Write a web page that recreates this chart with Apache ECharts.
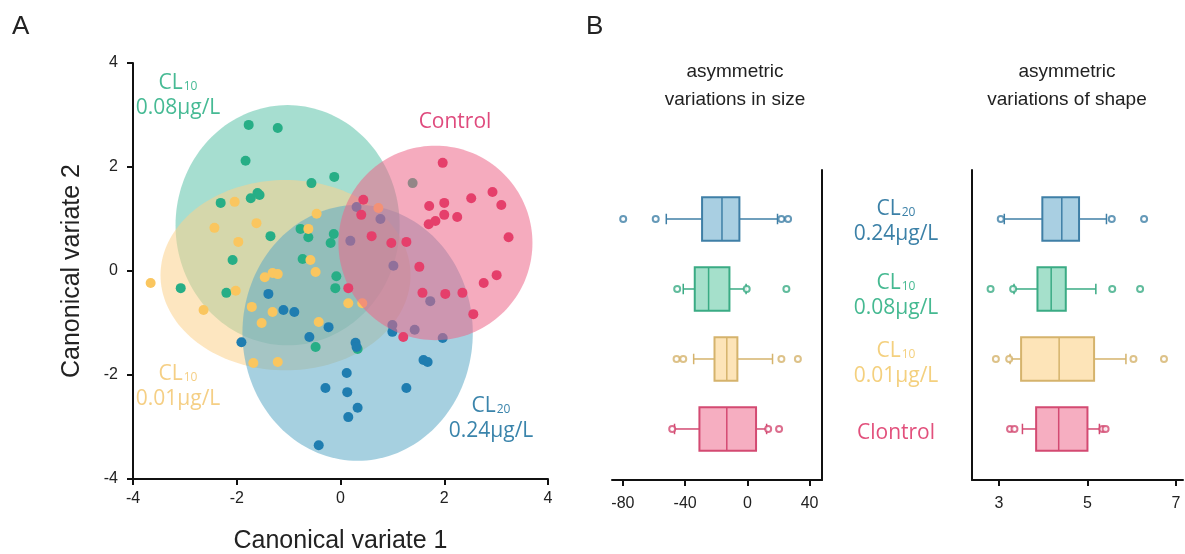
<!DOCTYPE html>
<html>
<head>
<meta charset="utf-8">
<script src="https://cdn.jsdelivr.net/npm/echarts@6/dist/echarts.min.js"></script>
<style>
  html, body { margin: 0; padding: 0; background: #fff; }
  #chart { width: 1185px; height: 554px; }
</style>
</head>
<body>
<div id="chart"></div>
<script>
// ---------- Panel A: canonical variate scores ----------
const cl10LowPoints = [ // CL10 0.01 µg/L
  [-3.66, -0.23], [-2.64, -0.75], [-2.43, 0.83], [-2.04, 1.33], [-1.62, 0.92],
  [-1.97, 0.56], [-0.46, 1.10], [-0.62, 0.81], [-0.58, 0.21], [-0.48, -0.02],
  [-1.46, -0.12], [-1.31, -0.04], [-1.21, -0.06], [-2.02, -0.38], [-1.71, -0.69],
  [-1.31, -0.79], [-1.52, -1.00], [-0.42, -0.98], [-1.68, -1.77], [-1.21, -1.75],
  [0.15, -0.62], [0.42, -0.62], [0.73, 1.21]
];
const cl10HighPoints = [ // CL10 0.08 µg/L
  [-1.77, 2.81], [-1.21, 2.75], [-1.83, 2.12], [-0.56, 1.69], [-0.12, 1.81],
  [-1.73, 1.40], [-1.60, 1.50], [-1.56, 1.46], [-2.31, 1.31], [-1.35, 0.67],
  [-2.08, 0.21], [-3.08, -0.33], [-2.20, -0.42], [-0.77, 0.81], [-0.62, 0.65],
  [-0.13, 0.71], [-0.19, 0.54], [-0.73, 0.23], [-0.08, -0.10], [-0.10, -0.33],
  [-0.48, -1.46], [0.33, -1.50], [1.39, 1.69]
];
const cl20Points = [ // CL20 0.24 µg/L
  [-1.39, -0.44], [-1.10, -0.75], [-0.89, -0.79], [-1.91, -1.37], [-0.60, -1.27],
  [-0.23, -1.08], [-0.29, -2.25], [-0.42, -3.35], [0.29, -1.38], [0.31, -1.46],
  [0.12, -1.96], [0.13, -2.33], [0.33, -2.63], [0.15, -2.81], [1.27, -2.25],
  [1.60, -1.71], [1.68, -1.75], [1.97, -1.29], [1.00, -1.04], [1.00, -1.17],
  [1.43, -1.13], [1.73, -0.58], [1.02, 0.10], [0.31, 1.23], [0.77, 1.00],
  [0.19, 0.58]
];
const controlPoints = [
  [1.97, 2.08], [2.52, 1.40], [2.93, 1.52], [3.10, 1.27], [3.24, 0.65],
  [1.71, 1.25], [2.00, 1.31], [2.00, 1.08], [2.25, 1.04], [1.70, 0.90],
  [1.83, 0.96], [0.44, 1.37], [0.40, 1.08], [0.60, 0.67], [0.98, 0.54],
  [1.27, 0.56], [1.52, 0.08], [0.15, -0.33], [1.58, -0.42], [2.02, -0.44],
  [2.35, -0.42], [2.76, -0.23], [3.01, -0.08], [2.56, -0.83], [1.21, -1.27]
];
// group ellipses: [centre x, centre y, radius x, radius y]
const cl10HighEllipse = [-1.02, 0.88, 2.16, 2.31];
const cl10LowEllipse  = [-1.06, -0.08, 2.41, 1.83];
const cl20Ellipse     = [0.33, -1.19, 2.22, 2.46];
const controlEllipse  = [1.83, 0.54, 1.87, 1.87];
const variateTicks = [-4, -2, 0, 2, 4];

// ---------- Panel B: box plots (rows top to bottom: CL20, CL10 0.08, CL10 0.01, Control) ----------
const boxRows = [4, 3, 2, 1];
// [lower whisker, Q1, median, Q3, upper whisker]
const sizeStats = [
  [-52.1, -29.1, -16.3, -5.1, 19.4],
  [-41.2, -33.8, -24.9, -11.5, -0.8],
  [-34.5, -21.1, -13.2, -6.4, 16.2],
  [-46.8, -30.8, -13.2, 5.6, 12.4]
];
const sizeOutliers = [
  [-79.8, -58.9, 21.9, 26.2],
  [-45.1, -0.4, 25.1],
  [-45.5, -41.2, 21.9, 32.5],
  [-48.3, 13.4, 20.4]
];
const shapeStats = [
  [3.12, 3.98, 4.42, 4.81, 5.43],
  [3.34, 3.87, 4.18, 4.51, 5.19],
  [3.25, 3.50, 4.36, 5.15, 5.87],
  [3.53, 3.84, 4.35, 5.00, 5.27]
];
const shapeOutliers = [
  [3.04, 5.55, 6.28],
  [2.81, 3.32, 5.56, 6.19],
  [2.93, 3.23, 6.04, 6.73],
  [3.25, 3.35, 5.34, 5.41]
];
const sizeTicks = [-80, -40, 0, 40];
const shapeTicks = [3, 5, 7];

// ---------- styling ----------
const FONT = '"Liberation Sans", Arial, sans-serif';
const LABEL_FONT = '"Open Sans", "Noto Sans", sans-serif';
const AXIS_COLOR = '#111';
const BOX_HALF = 0.31;
const CAP_HALF = 0.075;
const boxStyles = [
  { fill: '#a9cfe2', stroke: '#3f7fa6' },
  { fill: '#a5e0cb', stroke: '#3aab84' },
  { fill: '#fde4b8', stroke: '#d5b36c' },
  { fill: '#f6aec1', stroke: '#d34a72' }
];

const chart = echarts.init(document.getElementById('chart'), null, { renderer: 'canvas' });

function ellipseSeries(params, fill, z) {
  return {
    type: 'custom', xAxisIndex: 0, yAxisIndex: 0, z: z, silent: true,
    encode: { x: 0, y: 1 },
    data: [params],
    renderItem: function (p, api) {
      const cx = api.value(0), cy = api.value(1), rx = api.value(2), ry = api.value(3);
      const pts = [];
      for (let i = 0; i < 160; i++) {
        const t = (i / 160) * Math.PI * 2;
        pts.push(api.coord([cx + rx * Math.cos(t), cy + ry * Math.sin(t)]));
      }
      return { type: 'polygon', shape: { points: pts }, style: { fill: fill } };
    }
  };
}

function pointSeries(data, color, z) {
  return {
    type: 'scatter', xAxisIndex: 0, yAxisIndex: 0, z: z, silent: true,
    symbolSize: 10, data: data,
    itemStyle: { color: color, opacity: 1 }
  };
}

function boxSeries(stats, axisIdx) {
  return {
    type: 'custom', xAxisIndex: axisIdx, yAxisIndex: axisIdx, z: 5, silent: true,
    encode: { x: [1, 2, 3, 4, 5], y: 0 },
    data: stats.map((s, i) => [boxRows[i]].concat(s)),
    renderItem: function (p, api) {
      const row = api.value(0);
      const st = boxStyles[p.dataIndex];
      const xs = [1, 2, 3, 4, 5].map(k => api.coord([api.value(k), row])[0]);
      const y = api.coord([0, row])[1];
      const yTop = api.coord([0, row + BOX_HALF])[1];
      const yBot = api.coord([0, row - BOX_HALF])[1];
      const cTop = api.coord([0, row + CAP_HALF])[1];
      const cBot = api.coord([0, row - CAP_HALF])[1];
      const ln = { stroke: st.stroke, lineWidth: 1.5 };
      return {
        type: 'group',
        children: [
          { type: 'line', shape: { x1: xs[0], y1: y, x2: xs[1], y2: y }, style: ln },
          { type: 'line', shape: { x1: xs[3], y1: y, x2: xs[4], y2: y }, style: ln },
          { type: 'line', shape: { x1: xs[0], y1: cTop, x2: xs[0], y2: cBot }, style: ln },
          { type: 'line', shape: { x1: xs[4], y1: cTop, x2: xs[4], y2: cBot }, style: ln },
          { type: 'rect', shape: { x: xs[1], y: yTop, width: xs[3] - xs[1], height: yBot - yTop },
            style: { fill: st.fill, stroke: st.stroke, lineWidth: 2 } },
          { type: 'line', shape: { x1: xs[2], y1: yTop, x2: xs[2], y2: yBot }, style: { stroke: st.stroke, lineWidth: 1.5 } }
        ]
      };
    }
  };
}

function outlierSeries(outliers, axisIdx) {
  const data = [];
  outliers.forEach((arr, i) => arr.forEach(v => {
    data.push({ value: [v, boxRows[i]], itemStyle: { color: boxStyles[i].stroke } });
  }));
  return {
    type: 'scatter', xAxisIndex: axisIdx, yAxisIndex: axisIdx, z: 6, silent: true,
    symbol: 'emptyCircle', symbolSize: 6, data: data,
    itemStyle: { borderWidth: 1.5 }
  };
}

const baseAxisLine = { show: true, onZero: false, lineStyle: { color: AXIS_COLOR, width: 2 } };
const baseTick = { show: true, inside: false, length: 6, lineStyle: { color: AXIS_COLOR, width: 2 } };
const baseLabel = { color: '#222', fontSize: 16, fontFamily: FONT, margin: 13 };

function groupLabel(x, y, main, sub, line2, color) {
  const text = sub ? '{m|' + main + '}{s|' + sub + '}\n{m|' + line2 + '}' : '{m|' + main + '}';
  return {
    type: 'text', x: x, y: y, silent: true,
    style: {
      text: text, fill: color, align: 'center', verticalAlign: 'middle',
      rich: {
        m: { fontSize: 21, fontFamily: LABEL_FONT, lineHeight: 25, fill: color },
        s: { fontSize: 12, fontFamily: LABEL_FONT, lineHeight: 25, verticalAlign: 'bottom', padding: [0, 0, 3, 1], fill: color }
      }
    }
  };
}

const option = {
  backgroundColor: '#fff',
  animation: false,
  grid: [
    { left: 133, right: 1185 - 548, top: 63, bottom: 554 - 479, outerBoundsMode: 'none', containLabel: false },
    { left: 612, right: 1185 - 822, top: 170, bottom: 554 - 480, outerBoundsMode: 'none', containLabel: false },
    { left: 972, right: 2, top: 170, bottom: 554 - 480, outerBoundsMode: 'none', containLabel: false }
  ],
  xAxis: [
    {
      gridIndex: 0, type: 'value', min: variateTicks[0], max: variateTicks[variateTicks.length - 1], interval: 2,
      axisLine: baseAxisLine, axisTick: baseTick, axisLabel: Object.assign({}, baseLabel, { margin: 12 }),
      splitLine: { show: false },
      name: 'Canonical variate 1', nameLocation: 'middle', nameGap: 50,
      nameTextStyle: { fontSize: 25, color: '#222', fontFamily: FONT }
    },
    {
      gridIndex: 1, type: 'value', min: -87, max: 48,
      axisLine: baseAxisLine,
      axisTick: Object.assign({}, baseTick, { customValues: sizeTicks }),
      axisLabel: Object.assign({}, baseLabel, { customValues: sizeTicks, margin: 16 }),
      splitLine: { show: false }
    },
    {
      gridIndex: 2, type: 'value', min: 2.39, max: 7.16,
      axisLine: baseAxisLine,
      axisTick: Object.assign({}, baseTick, { customValues: shapeTicks }),
      axisLabel: Object.assign({}, baseLabel, { customValues: shapeTicks, margin: 16 }),
      splitLine: { show: false }
    }
  ],
  yAxis: [
    {
      gridIndex: 0, type: 'value', min: variateTicks[0], max: variateTicks[variateTicks.length - 1], interval: 2,
      axisLine: baseAxisLine, axisTick: baseTick, axisLabel: Object.assign({}, baseLabel, { margin: 15 }),
      splitLine: { show: false },
      name: 'Canonical variate 2', nameLocation: 'middle', nameGap: 48,
      nameTextStyle: { fontSize: 25, color: '#222', fontFamily: FONT }
    },
    {
      gridIndex: 1, type: 'value', min: 0.271, max: 4.70, position: 'right',
      axisLine: baseAxisLine, axisTick: { show: false }, axisLabel: { show: false }, splitLine: { show: false }
    },
    {
      gridIndex: 2, type: 'value', min: 0.271, max: 4.70, position: 'left',
      axisLine: baseAxisLine, axisTick: { show: false }, axisLabel: { show: false }, splitLine: { show: false }
    }
  ],
  series: [
    ellipseSeries(cl10HighEllipse, 'rgba(93,195,170,0.55)', 1),
    ellipseSeries(cl10LowEllipse, 'rgba(251,210,140,0.55)', 1),
    ellipseSeries(cl20Ellipse, 'rgba(93,169,199,0.55)', 1),
    pointSeries(cl10HighPoints, '#27ae86', 2),
    pointSeries(cl10LowPoints, '#fac65f', 2),
    pointSeries(cl20Points, '#1f7db0', 2),
    ellipseSeries(controlEllipse, 'rgba(237,102,137,0.55)', 3),
    pointSeries(controlPoints, '#e53f6b', 4),
    boxSeries(sizeStats, 1),
    outlierSeries(sizeOutliers, 1),
    boxSeries(shapeStats, 2),
    outlierSeries(shapeOutliers, 2)
  ],
  graphic: [
    { type: 'text', x: 12, y: 14, style: { text: 'A', fontSize: 26, fontFamily: FONT, fill: '#222' } },
    { type: 'text', x: 586, y: 14, style: { text: 'B', fontSize: 26, fontFamily: FONT, fill: '#222' } },
    { type: 'text', x: 735, y: 86, style: { text: 'asymmetric\nvariations in size', fontSize: 19, lineHeight: 28, fontFamily: FONT, fill: '#222', align: 'center', verticalAlign: 'middle' } },
    { type: 'text', x: 1067, y: 86, style: { text: 'asymmetric\nvariations of shape', fontSize: 19, lineHeight: 28, fontFamily: FONT, fill: '#222', align: 'center', verticalAlign: 'middle' } },
    groupLabel(178, 96, 'CL', '10', '0.08μg/L', '#46ba94'),
    groupLabel(455, 122, 'Control', null, null, '#df4a7d'),
    groupLabel(178, 387, 'CL', '10', '0.01μg/L', '#f5cf85'),
    groupLabel(491, 419, 'CL', '20', '0.24μg/L', '#3a84ab'),
    groupLabel(896, 222, 'CL', '20', '0.24μg/L', '#3b80a7'),
    groupLabel(896, 296, 'CL', '10', '0.08μg/L', '#45b991'),
    groupLabel(896, 364, 'CL', '10', '0.01μg/L', '#f4d07e'),
    groupLabel(896, 433, 'Clontrol', null, null, '#e2507c')
  ]
};

chart.setOption(option);
</script>
</body>
</html>
